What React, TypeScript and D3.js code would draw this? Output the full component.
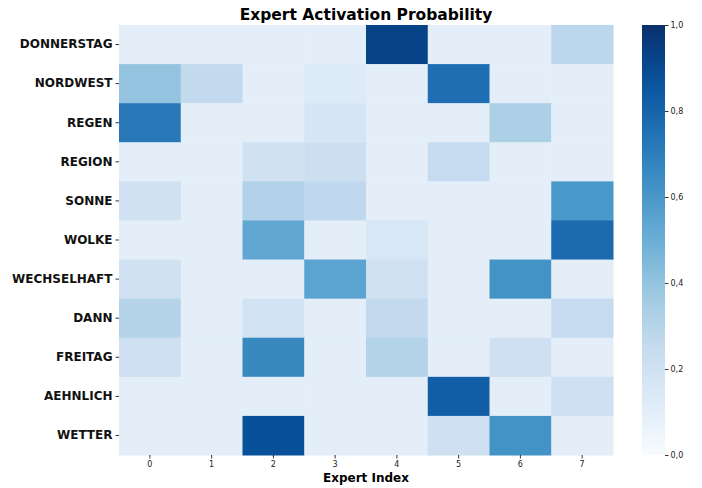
import React, { useEffect, useRef } from "react";
import * as d3 from "d3";

const words = ["DONNERSTAG", "NORDWEST", "REGEN", "REGION", "SONNE", "WOLKE", "WECHSELHAFT", "DANN", "FREITAG", "AEHNLICH", "WETTER"];
const experts = [0, 1, 2, 3, 4, 5, 6, 7];
// activation probability per word (rows) and expert (cols)
const probs = [
  [0.1, 0.1, 0.1, 0.1, 0.93, 0.1, 0.1, 0.28],
  [0.4, 0.26, 0.1, 0.13, 0.1, 0.76, 0.1, 0.1],
  [0.72, 0.1, 0.1, 0.17, 0.1, 0.1, 0.33, 0.1],
  [0.1, 0.1, 0.2, 0.22, 0.1, 0.25, 0.1, 0.1],
  [0.2, 0.1, 0.32, 0.27, 0.1, 0.1, 0.1, 0.6],
  [0.1, 0.1, 0.53, 0.1, 0.16, 0.1, 0.1, 0.78],
  [0.2, 0.1, 0.1, 0.55, 0.2, 0.1, 0.62, 0.1],
  [0.3, 0.1, 0.19, 0.1, 0.26, 0.1, 0.1, 0.25],
  [0.21, 0.1, 0.66, 0.1, 0.31, 0.1, 0.21, 0.1],
  [0.1, 0.1, 0.1, 0.1, 0.1, 0.82, 0.1, 0.21],
  [0.1, 0.1, 0.88, 0.1, 0.1, 0.21, 0.62, 0.1],
];
const cbTicks = [0, 0.2, 0.4, 0.6, 0.8, 1.0];
const blues = ["#f7fbff", "#deebf7", "#c6dbef", "#9ecae1", "#6baed6", "#4292c6", "#2171b5", "#08519c", "#08306b"];

const App = () => {
  const svgRef = useRef<SVGSVGElement | null>(null);
  const w = 702;
  const h = 488;
  const m = { top: 25, left: 119, right: 613, bottom: 455 };

  useEffect(() => {
    const svg = d3.select(svgRef.current);
    svg.selectAll("*").remove();
    const font = "'DejaVu Sans', sans-serif";

    const color = d3
      .scaleLinear<string>()
      .domain(blues.map((_, i) => i / (blues.length - 1)))
      .range(blues)
      .interpolate(d3.interpolateRgb);

    const x = d3.scaleBand<number>().domain(experts).range([m.left, m.right]);
    const y = d3.scaleBand<string>().domain(words).range([m.top, m.bottom]);

    const cells = probs.flatMap((row, r) => row.map((v, c) => ({ word: words[r], expert: c, v })));
    svg
      .append("g")
      .selectAll("rect")
      .data(cells)
      .enter()
      .append("rect")
      .attr("x", (d) => x(d.expert)!)
      .attr("y", (d) => y(d.word)!)
      .attr("width", x.bandwidth() + 0.5)
      .attr("height", y.bandwidth() + 0.5)
      .attr("fill", (d) => color(d.v));

    // axes
    const xAxis = svg
      .append("g")
      .attr("transform", `translate(0,${m.bottom})`)
      .call(d3.axisBottom(x).tickSize(3.5).tickPadding(3));
    xAxis.select(".domain").remove();
    xAxis.selectAll("text").style("font-size", "8px").style("font-family", font).attr("fill", "#222");
    xAxis.selectAll("line").attr("stroke", "#000").attr("stroke-width", 0.8);

    const yAxis = svg
      .append("g")
      .attr("transform", `translate(${m.left},0)`)
      .call(d3.axisLeft(y).tickSize(3.5).tickPadding(3));
    yAxis.select(".domain").remove();
    yAxis
      .selectAll("text")
      .style("font-size", "12px")
      .style("font-weight", "bold")
      .style("font-family", font)
      .attr("fill", "#111");
    yAxis.selectAll("line").attr("stroke", "#000").attr("stroke-width", 0.8);

    // colorbar
    const cbX = 642;
    const cbW = 23;
    const cy = d3.scaleLinear().domain([0, 1]).range([m.bottom, m.top]);
    const defs = svg.append("defs");
    const grad = defs
      .append("linearGradient")
      .attr("id", "cbgrad")
      .attr("x1", 0)
      .attr("y1", 1)
      .attr("x2", 0)
      .attr("y2", 0);
    d3.range(0, 1.0001, 0.05).forEach((t) => {
      grad.append("stop").attr("offset", t).attr("stop-color", color(t));
    });
    svg
      .append("rect")
      .attr("x", cbX)
      .attr("y", m.top)
      .attr("width", cbW)
      .attr("height", m.bottom - m.top)
      .attr("fill", "url(#cbgrad)");
    const cbAxis = svg
      .append("g")
      .attr("transform", `translate(${cbX + cbW},0)`)
      .call(
        d3
          .axisRight(cy)
          .tickValues(cbTicks)
          .tickSize(3.5)
          .tickPadding(2)
          .tickFormat((d) => d3.format(".1f")(d as number).replace(".", ","))
      );
    cbAxis.select(".domain").remove();
    cbAxis.selectAll("text").style("font-size", "8px").style("font-family", font).attr("fill", "#222");
    cbAxis.selectAll("line").attr("stroke", "#000").attr("stroke-width", 0.8);

    svg
      .append("text")
      .attr("x", (m.left + m.right) / 2)
      .attr("y", 20)
      .attr("text-anchor", "middle")
      .style("font-family", font)
      .style("font-size", "15.5px")
      .style("font-weight", "bold")
      .text("Expert Activation Probability");

    svg
      .append("text")
      .attr("x", (m.left + m.right) / 2)
      .attr("y", 482)
      .attr("text-anchor", "middle")
      .style("font-family", font)
      .style("font-size", "12px")
      .style("font-weight", "bold")
      .text("Expert Index");
  }, []);

  return (
    <svg
      ref={svgRef}
      width={w}
      height={h}
      style={{ position: "absolute", left: 0, top: 0, background: "#fff" }}
    ></svg>
  );
};

export default App;
